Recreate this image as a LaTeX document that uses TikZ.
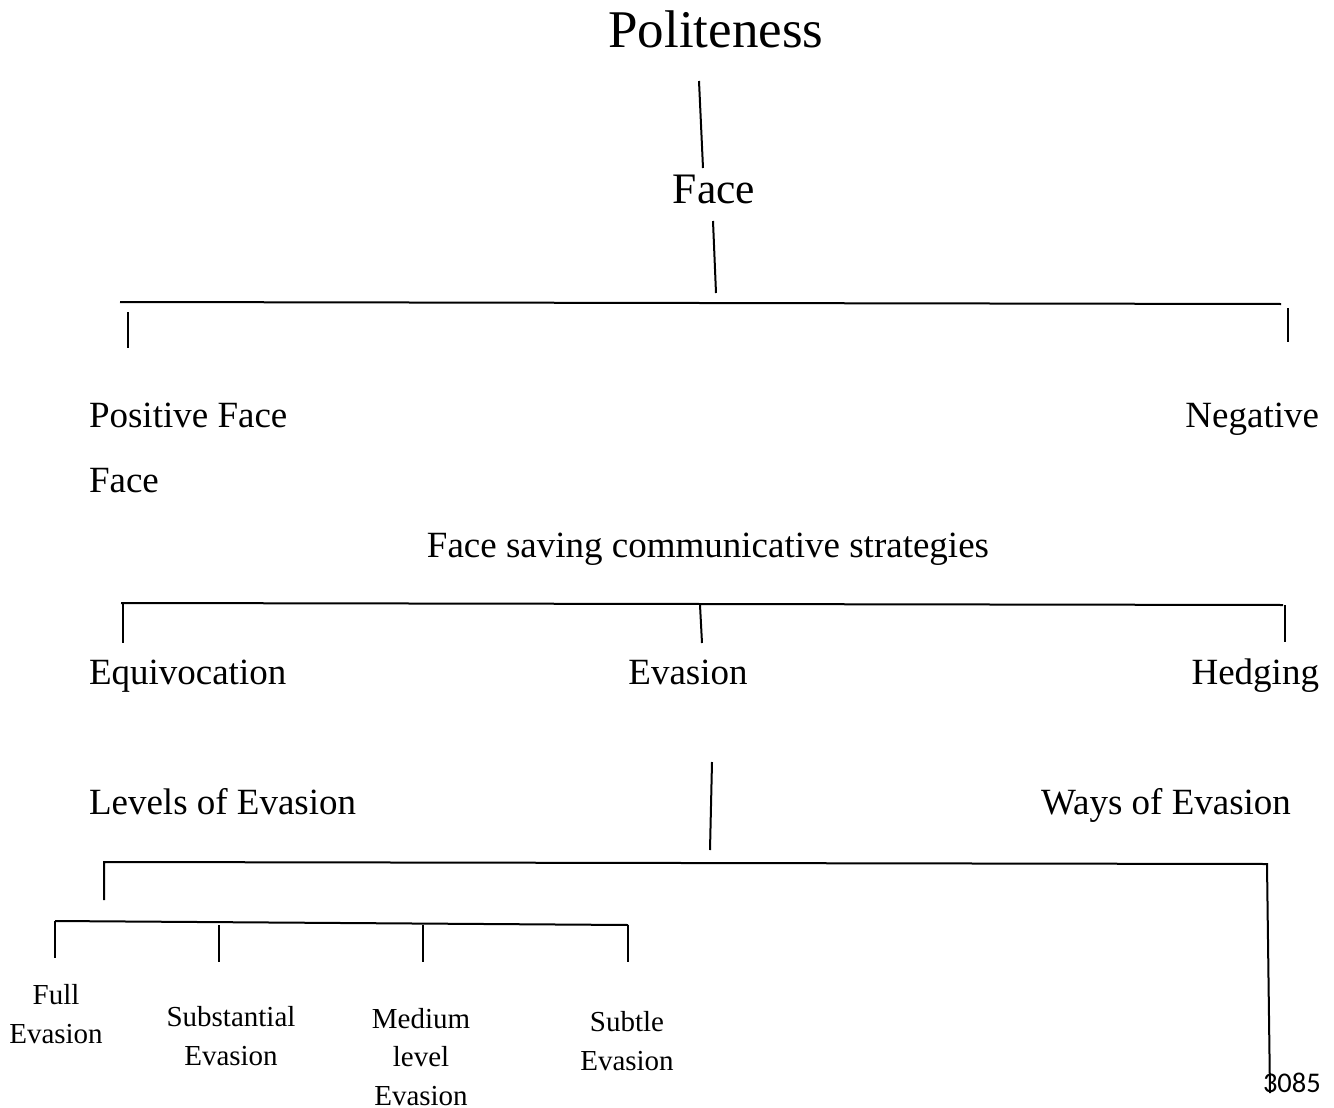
\documentclass[tikz,border=0pt]{standalone}
\usepackage{fontspec}
\setmainfont{Liberation Serif}
\newfontfamily\pagefont{Carlito}
\begin{document}
\begin{tikzpicture}[x=1pt,y=-1pt,line width=2pt,
    title/.style={font=\fontsize{53}{60}\selectfont,inner sep=0pt},
    level/.style={font=\fontsize{37}{44}\selectfont,inner sep=0pt},
    leaf/.style={font=\fontsize{29}{38.5}\selectfont,inner sep=0pt,align=center,anchor=base}]
  \useasboundingbox (0,0) rectangle (1334,1108);
  % top of the tree
  \node[title,anchor=base] (polite) at (716,48) {Politeness};
  \node[title,font=\fontsize{43.5}{50}\selectfont,anchor=base] (face) at (714,203) {Face};
  \coordinate (pa) at (699,81);
  \coordinate (pb) at (703,168);
  \coordinate (fa) at (713,221);
  \coordinate (fb) at (716,293);
  \draw (pa) -- (pb);
  \draw (fa) -- (fb);
  % positive / negative face
  \coordinate (fl) at (120,302);
  \coordinate (fr) at (1281,304);
  \draw (fl) -- (fr);
  \draw (128,312) coordinate (tl) -- (128,348) coordinate (bl);
  \draw (1288,308) coordinate (tr) -- (1288,342) coordinate (br);
  \node[level,anchor=base west] (pos) at (88,427) {Positive Face};
  \node[level,anchor=base east] (neg) at (1320,427) {Negative};
  \node[level,anchor=base west] (negb) at (88,492) {Face};
  \node[level,anchor=base] (fscs) at (708,557) {Face saving communicative strategies};
  % strategies
  \coordinate (sl) at (121,603);
  \coordinate (sr) at (1283,605);
  \draw (sl) -- (sr);
  \draw (123,603) coordinate (s1) -- (123,643) coordinate (s1b);
  \draw (700,605) coordinate (s2) -- (702,643) coordinate (s2b);
  \draw (1285,605) coordinate (s3) -- (1285,642) coordinate (s3b);
  \node[level,anchor=base west] (equi) at (88,684) {Equivocation};
  \node[level,anchor=base] (eva) at (688,684) {Evasion};
  \node[level,anchor=base east] (hedge) at (1320,684) {Hedging};
  \node[level,anchor=base west] (levels) at (88,814) {Levels of Evasion};
  \node[level,anchor=base east] (ways) at (1292,814) {Ways of Evasion};
  % levels and ways of evasion
  \coordinate (ea) at (712,762);
  \coordinate (eb) at (710,850);
  \draw (ea) -- (eb);
  \coordinate (el) at (104,862);
  \coordinate (er) at (1267,864);
  \coordinate (erb) at (1270,1093);
  \coordinate (elb) at (104,900);
  \draw (elb) -- (el) -- (er) -- (erb);
  \coordinate (ll) at (55,921);
  \coordinate (lr) at (628,925);
  \draw (ll) -- (lr);
  \draw (55,921) -- (55,958);
  \foreach \x in {219,423,628}
    \draw (\x,925) -- (\x,962);
  % base anchor sits on the last line
  \node[leaf] (full) at (56,1043) {Full\\Evasion};
  \node[leaf] (subst) at (231,1065) {Substantial\\Evasion};
  \node[leaf] (medium) at (421,1105) {Medium\\level\\Evasion};
  \node[leaf] (subtle) at (627,1070) {Subtle\\Evasion};
  \node[inner sep=0pt,anchor=base west,font=\pagefont\fontsize{28.5}{34}\selectfont] (page) at (1262,1092) {3085};
\end{tikzpicture}
\end{document}
